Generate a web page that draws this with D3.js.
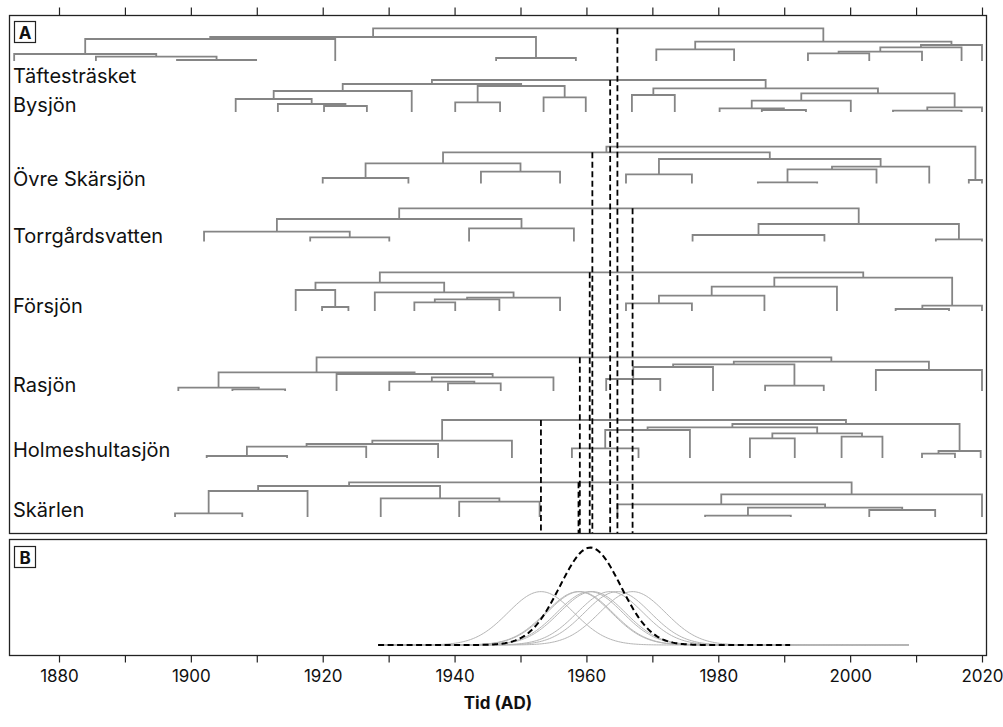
<!DOCTYPE html>
<html>
<head>
<meta charset="utf-8">
<script src="https://cdn.jsdelivr.net/npm/d3@7"></script>
<style>
  body { margin: 0; background: #fff; }
  svg { display: block; }
  text { font-family: Inter, "Noto Sans", sans-serif; fill: #111; }
</style>
</head>
<body>
<svg id="chart" width="1003" height="727"></svg>
<script>
// ---- data -------------------------------------------------------------
// Lakes, top to bottom
const lakes = ["Täftesträsket", "Bysjön", "Övre Skärsjön", "Torrgårdsvatten",
               "Försjön", "Rasjön", "Holmeshultasjön", "Skärlen"];

// Constrained cluster trees: [left, right, dissimilarity]; leaves are sample years (AD)
const treeTaftestrasket = [[[[1873.2, [1885.6, [1897.9, 1909.9, 0.10], 0.43], 0.70], 1921.9, 2.20],
  [1946.3, 1958.4, 0.30], 2.40],
  [[1970.6, 1982.4, 1.17], [[[[1993.6, 2002.9, 0.77], 2010.9, 0.93], 2016.9, 1.37], 2020.0, 1.60], 1.93], 3.27];
const treeBysjon = [[[[1906.8, [1913.2, [1920.2, 1926.7, 0.60], 0.80], 1.30], 1933.5, 2.10],
  [[1940.1, 1946.9, 0.97], [1953.5, 1959.9, 1.47], 2.60], 2.80],
  [[1966.9, 1973.4, 1.70], [[[1980.2, [1986.6, 1993.3, 0.20], 0.37], 2000.1, 1.13],
  [[2006.5, 2016.9, 0.13], 2020.0, 0.47], 1.87], 2.37], 3.20];
const treeOvreSkarsjon = [[[[1920.0, 1933.0, 0.55], [1944.0, 1956.0, 1.18], 2.02],
  [[1966.0, 1976.0, 0.92], [[[1986.0, 1995.0, 0.12], 2004.0, 1.42], 2012.0, 1.68], 2.45], 3.12],
  [2018.0, 2020.0, 0.35], 3.68];
const treeTorrgardsvatten = [[[1902.0, [1918.1, 1930.1, 0.42], 0.98], [1942.2, 1958.1, 1.32], 2.25],
  [[1976.1, 1996.1, 0.65], [2013.0, 2020.0, 0.22], 1.75], 3.32];
const treeForsjon = [[[1915.9, [1919.9, 1923.9, 0.40], 2.10],
  [1927.9, [[[1933.9, 1940.1, 0.87], 1946.8, 1.17], 1956.0, 1.33], 1.87], 2.83],
  [[[[1966.0, 1976.0, 0.77], 1987.0, 1.53], 1998.0, 2.43], [[2006.9, 2015.0, 0.20], 2020.0, 0.53], 3.33], 3.87];
const treeRasjon = [[[1898.1, [1906.3, 1914.3, 0.17], 0.33],
  [1922.1, [[1930.1, [1939.0, 1947.0, 0.77], 0.93], 1955.0, 1.37], 1.70], 1.87],
  [[[[1963.0, 1971.2, 1.20], 1979.2, 2.40], [1987.1, 1996.0, 0.53], 2.67], [2003.9, 2020.0, 2.10], 2.93], 3.37];
const treeHolmeshultasjon = [[[[[1902.4, 1914.6, 0.20], 1926.6, 1.13], 1937.5, 1.40], 1948.7, 1.73],
  [[[[1957.8, 1967.9, 0.97], 1975.7, 2.80], [[1984.8, 1991.6, 1.97], [1998.7, 2004.9, 2.13], 2.47], 3.07],
  [[2010.9, 2015.9, 0.43], 2019.8, 0.70], 3.40], 3.80];
const treeSkarlen = [[[[1897.6, 1907.8, 0.37], 1917.7, 2.60], [1928.8, [1940.7, 1952.9, 1.53], 1.87], 3.10],
  [[1964.7, [[1978.0, 1991.0, 0.13], [2002.9, 2012.9, 0.70], 0.93], 1.27], 2020.0, 2.27], 3.47];

const trees = [treeTaftestrasket, treeBysjon, treeOvreSkarsjon, treeTorrgardsvatten,
               treeForsjon, treeRasjon, treeHolmeshultasjon, treeSkarlen];

// Estimated year of the main shift in each lake (AD)
const changeYears = [1964.7, 1963.6, 1960.9, 1967.0, 1960.5, 1959.0, 1953.1, 1958.8];
const changeSd = 5.0;                  // spread of each lake's estimate (years)
const combinedMean = 1960.6;           // pooled estimate
const combinedSd = 4.6;
const lakeGridRange = [1928.4, 2009.1];
const combinedGridRange = [1928.4, 1990.9];

const axisTicks = d3.range(1880, 2021, 10);
const axisLabels = d3.range(1880, 2021, 20);

// ---- layout -----------------------------------------------------------
const panelA = { x0: 9.5, x1: 986.5, y0: 15.5, y1: 533.5 };
const panelB = { x0: 9.5, x1: 986.5, y0: 539.5, y1: 655.5 };
const rowBase = [61, 112, 183.5, 241.5, 311, 391, 458, 517];
const labelBase = [83, 112, 186, 243, 313, 392, 457, 517];

const svg = d3.select("#chart");
const x = d3.scaleLinear().domain([1880, 2020]).range([59, 982]);
const hScale = d3.scaleLinear().domain([0, 1]).range([0, 10]);

const GREY = "#858585";

// ---- panel A: dendrograms -------------------------------------------
function build(node) {
  if (typeof node === "number") return { x: node, h: 0, leaf: true, min: node, max: node };
  const l = build(node[0]), r = build(node[1]);
  return { x: (l.x + r.x) / 2, h: node[2], l, r, min: l.min, max: r.max };
}
function collect(n, out) {
  if (n.leaf) return out;
  out.push(n);
  collect(n.l, out); collect(n.r, out);
  return out;
}
function splitNode(n, year) {
  if (n.leaf) return null;
  if (n.l.max < year && year < n.r.min) return n;
  return year <= n.l.max ? splitNode(n.l, year) : splitNode(n.r, year);
}

const gA = svg.append("g");
const gTrees = gA.append("g");
const gChange = gA.append("g");

trees.forEach((t, i) => {
  const root = build(t);
  const base = rowBase[i];
  const y = h => base - hScale(h);
  gTrees.append("g").selectAll("path")
    .data(collect(root, []))
    .join("path")
    .attr("d", n => `M${x(n.l.x)},${y(n.l.h)}V${y(n.h)}H${x(n.r.x)}V${y(n.r.h)}`)
    .attr("fill", "none")
    .attr("stroke", GREY)
    .attr("stroke-width", 1.8);

  gA.append("text")
    .attr("x", 13).attr("y", labelBase[i])
    .attr("font-size", 20)
    .text(lakes[i]);

  const s = splitNode(root, changeYears[i]);
  gChange.append("line")
    .attr("x1", x(changeYears[i])).attr("x2", x(changeYears[i]))
    .attr("y1", y(s.h)).attr("y2", panelA.y1)
    .attr("stroke", "#000")
    .attr("stroke-width", 1.8)
    .attr("stroke-dasharray", "6,3.5");
});

// ---- panel B: densities ----------------------------------------------
const yB = d3.scaleLinear().domain([0, 0.145]).range([645, 548]);
const gauss = (v, m, s) => Math.exp(-0.5 * ((v - m) / s) ** 2) / (s * Math.sqrt(2 * Math.PI));
const gridOf = r => d3.range(r[0], r[1] + 0.001, 0.25);
const line = d3.line().x(d => x(d[0])).y(d => yB(d[1]));

const gB = svg.append("g");
gB.selectAll("path.lake")
  .data(changeYears)
  .join("path")
  .attr("class", "lake")
  .attr("d", m => line(gridOf(lakeGridRange).map(v => [v, gauss(v, m, changeSd)])))
  .attr("fill", "none")
  .attr("stroke", "#b5b5b5")
  .attr("stroke-width", 1);

gB.append("path")
  .attr("d", line(gridOf(combinedGridRange).map(v => [v, gauss(v, combinedMean, combinedSd) * 1.679])))
  .attr("fill", "none")
  .attr("stroke", "#000")
  .attr("stroke-width", 2)
  .attr("stroke-dasharray", "6,3.5");

// ---- frames, axes, labels --------------------------------------------
[panelA, panelB].forEach(p => {
  svg.append("rect")
    .attr("x", p.x0).attr("y", p.y0)
    .attr("width", p.x1 - p.x0).attr("height", p.y1 - p.y0)
    .attr("fill", "none").attr("stroke", "#222").attr("stroke-width", 1.3);
});

// ticks above panel A
svg.append("g")
  .attr("transform", `translate(0,${panelA.y0})`)
  .call(d3.axisTop(x).tickValues(axisTicks).tickFormat("").tickSize(8).tickSizeOuter(0))
  .call(g => g.select(".domain").remove())
  .call(g => g.selectAll("line").attr("stroke", "#222").attr("stroke-width", 1.2));

// bottom axis
svg.append("g")
  .attr("transform", `translate(0,${panelB.y1})`)
  .call(d3.axisBottom(x).tickValues(axisTicks)
    .tickFormat(d => axisLabels.includes(d) ? d : "").tickSize(7).tickPadding(7))
  .call(g => g.select(".domain").remove())
  .call(g => g.selectAll("line").attr("stroke", "#222").attr("stroke-width", 1.2))
  .call(g => g.selectAll("text").attr("font-size", 17).attr("fill", "#111")
    .attr("font-family", "Inter, 'Noto Sans', sans-serif"));

svg.append("text")
  .attr("x", (panelA.x0 + panelA.x1) / 2).attr("y", 709)
  .attr("text-anchor", "middle")
  .attr("font-size", 17).attr("font-weight", "bold")
  .text("Tid (AD)");

// panel tags
[["A", 14, 21], ["B", 14, 546]].forEach(([t, bx, by]) => {
  svg.append("rect").attr("x", bx + 0.5).attr("y", by + 0.5).attr("width", 21).attr("height", 21)
    .attr("fill", "#fff").attr("stroke", "#222").attr("stroke-width", 1.2);
  svg.append("text").attr("x", bx + 11).attr("y", by + 17.5)
    .attr("text-anchor", "middle").attr("font-size", 17).attr("font-weight", "bold")
    .text(t);
});
</script>
</body>
</html>
